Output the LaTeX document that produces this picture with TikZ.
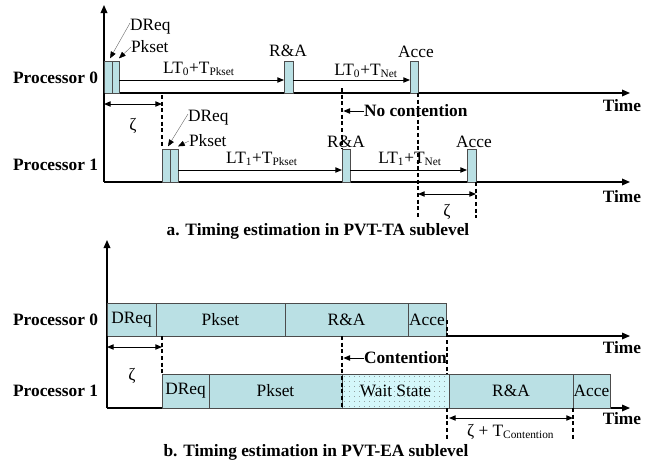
\documentclass[tikz,border=0pt]{standalone}
\usepackage{fontspec}
\setmainfont{Liberation Serif}
\usetikzlibrary{fit,arrows.meta,calc}
\definecolor{boxc}{RGB}{186,224,228}
\definecolor{waitc}{RGB}{212,247,250}
\newcommand{\subx}[1]{\textsubscript{\fontsize{8.5}{9}\selectfont #1}}
\begin{document}
\begin{tikzpicture}[x=0.75pt,y=-0.75pt,
  every node/.style={inner sep=0pt, outer sep=0pt},
  txt/.style={font=\fontsize{13}{15}\selectfont},
  btxt/.style={font=\fontsize{13}{15}\selectfont\bfseries},
  captxt/.style={font=\fontsize{13}{15}\selectfont\bfseries},
  bx/.style={draw=black!70, line width=0.7pt, fill=boxc, inner sep=0pt},
  waitbx/.style={bx, fill=waitc, path picture={
      \foreach \i in {0,...,21} \foreach \j in {0,...,6}
        \fill[black!55] ($(path picture bounding box.north west)+(2.5+\i*5,2.5+\j*5)$) circle[radius=0.35pt];}},
  axl/.style={line width=0.9pt, -{Triangle[length=6pt,width=5pt]}},
  arr/.style={line width=0.7pt, -{Triangle[length=5pt,width=4pt]}},
  dbl/.style={line width=0.7pt, {Triangle[length=5pt,width=4pt]}-{Triangle[length=5pt,width=4pt]}},
  lead/.style={line width=0.3pt, draw=black!60, -{Triangle[length=5pt,width=4pt,color=black]}},
  dsh/.style={line width=1.4pt, dash pattern=on 3pt off 2pt},
]
\useasboundingbox (0,0) rectangle (657,465);

% ---------------- part a ----------------
\coordinate (aO) at (104,182);
\coordinate (aT) at (104,5);
\coordinate (a0S) at (104,93);
\coordinate (a0E) at (630,93);
\coordinate (a1E) at (630,182);
\draw[axl] (aO) -- (aT);
\draw[axl] (a0S) -- (a0E);
\draw[axl] (aO) -- (a1E);

\node[bx, fit={(104,61)(112,93)}] (p0d) {};
\node[bx, fit={(112,61)(119,93)}] (p0k) {};
\node[bx, fit={(284,61)(293,93)}] (p0r) {};
\node[bx, fit={(410,61)(418,93)}] (p0a) {};

\node[bx, fit={(162,149)(170,182)}] (p1d) {};
\node[bx, fit={(170,149)(178,182)}] (p1k) {};
\node[bx, fit={(342,149)(350,182)}] (p1r) {};
\node[bx, fit={(467,149)(476,182)}] (p1a) {};

\coordinate (y0) at (0,80);
\coordinate (y1) at (0,170);
\draw[arr] (p0k.east |- y0) -- (p0r.west |- y0);
\draw[arr] (p0r.east |- y0) -- (p0a.west |- y0);
\draw[arr] (p1k.east |- y1) -- (p1r.west |- y1);
\draw[arr] (p1r.east |- y1) -- (p1a.west |- y1);

\node[txt, anchor=west] (l0d) at (130,27) {DReq};
\node[txt, anchor=west] (l0k) at (131,47) {Pkset};
\node[txt] (l0r) at (288,51) {R\&A};
\node[txt] (l0a) at (416,52) {Acce};
\node[txt] (t0p) at (199,69) {LT\subx{0}+T\subx{Pkset}};
\node[txt] (t0n) at (366,71) {LT\subx{0}+T\subx{Net}};

\node[txt, anchor=west] (l1d) at (188,118) {DReq};
\node[txt, anchor=west] (l1k) at (189,141) {Pkset};
\node[txt] (l1r) at (346,142) {R\&A};
\node[txt] (l1a) at (474,142) {Acce};
\node[txt] (t1p) at (262,159) {LT\subx{1}+T\subx{Pkset}};
\node[txt] (t1n) at (410,159) {LT\subx{1}+T\subx{Net}};

\draw[lead] ([yshift=3pt]l0d.west) -- ([yshift=2pt,xshift=-1.5pt]p0d.north east);
\draw[lead] (l0k.west) -- ([yshift=2pt]p0k.north east);
\draw[lead] ([yshift=3pt]l1d.west) -- ([yshift=2pt,xshift=-1.5pt]p1d.north east);
\draw[lead] (l1k.west) -- ([yshift=2pt]p1k.north east);

\node[btxt, anchor=east] (pa0) at (98,78) {Processor 0};
\node[btxt, anchor=east] (pa1) at (98,165) {Processor 1};
\node[btxt, anchor=east] (ta0) at (641,106) {Time};
\node[btxt, anchor=east] (ta1) at (641,197) {Time};

\coordinate (d1a) at (104,93);  \coordinate (d1b) at (104,136);
\coordinate (d2a) at (162,95);  \coordinate (d2b) at (162,148);
\draw[dsh] (d1a) -- (d1b);
\draw[dsh] (d2a) -- (d2b);
\coordinate (z1a) at (104,104); \coordinate (z1b) at (162,104);
\draw[dbl] (z1a) -- (z1b);
\node[txt] (z1) at (133,126) {ζ};

\coordinate (d3a) at (342,88);
\draw[dsh] (d3a) -- (d3a |- p1r.north);
\node[btxt, anchor=west] (nc) at (364,111) {No contention};
\draw[arr] (nc.west) -- ([xshift=1pt]nc.west -| d3a);

\coordinate (d4a) at (418,93);  \coordinate (d4b) at (418,218);
\coordinate (d5a) at (476,182); \coordinate (d5b) at (476,218);
\draw[dsh] (d4a) -- (d4b);
\draw[dsh] (d5a) -- (d5b);
\coordinate (z2a) at (418,194); \coordinate (z2b) at (476,194);
\draw[dbl] (z2a) -- (z2b);
\node[txt] (z2) at (447,212) {ζ};

\node[captxt] (capa) at (318,231) {a. Timing estimation in PVT-TA sublevel};

% ---------------- part b ----------------
\coordinate (bO) at (107,408);
\coordinate (bT) at (107,240);
\coordinate (b0S) at (107,336);
\coordinate (b0E) at (630,336);
\coordinate (b1E) at (630,408);
\draw[axl] (bO) -- (bT);
\draw[axl] (b0S) -- (b0E);
\draw[axl] (bO) -- (b1E);

\node[bx, fit={(107,303)(156,336)}] (q0d) {};
\node[bx, fit={(156,303)(285,336)}] (q0k) {};
\node[bx, fit={(285,303)(408,336)}] (q0r) {};
\node[bx, fit={(408,303)(446,336)}] (q0a) {};
\node[txt] (q0dt) at (q0d) {DReq};
\node[txt] (q0kt) at (q0k) {Pkset};
\node[txt] (q0rt) at (q0r) {R\&A};
\node[txt] (q0at) at (q0a) {Acce};

\node[bx, fit={(162,374)(209,408)}] (q1d) {};
\node[bx, fit={(209,374)(342,408)}] (q1k) {};
\node[waitbx, fit={(342,374)(449,408)}] (q1w) {};
\node[bx, fit={(449,374)(573,408)}] (q1r) {};
\node[bx, fit={(573,374)(610,408)}] (q1a) {};
\node[txt] (q1dt) at (q1d) {DReq};
\node[txt] (q1kt) at (q1k) {Pkset};
\node[txt] (q1wt) at (q1w) {Wait State};
\node[txt] (q1rt) at (q1r) {R\&A};
\node[txt] (q1at) at (q1a) {Acce};

\node[btxt, anchor=east] (pb0) at (98,320) {Processor 0};
\node[btxt, anchor=east] (pb1) at (98,391) {Processor 1};
\node[btxt, anchor=east] (tb0) at (641,348) {Time};
\node[btxt, anchor=east] (tb1) at (641,419) {Time};

\coordinate (e1a) at (107,336); \coordinate (e1b) at (107,376);
\coordinate (e2a) at (162,336);
\draw[dsh] (e1a) -- (e1b);
\draw[dsh] (e2a) -- (q1d.north west);
\coordinate (w1a) at (107,347); \coordinate (w1b) at (162,347);
\draw[dbl] (w1a) -- (w1b);
\node[txt] (z3) at (132,376) {ζ};

\coordinate (e3a) at (342,336);
\draw[dsh] (e3a) -- (q1w.south west);
\node[btxt, anchor=west] (ct) at (364,358) {Contention};
\draw[arr] (ct.west) -- ([xshift=1pt]ct.west -| e3a);
\coordinate (e4a) at (447,320);
\draw[dsh] (e4a) -- (e4a |- q1w.north);
\coordinate (e5a) at (447,408); \coordinate (e5b) at (447,440);
\coordinate (e6a) at (573,408); \coordinate (e6b) at (573,440);
\draw[dsh] (e5a) -- (e5b);
\draw[dsh] (e6a) -- (e6b);
\coordinate (y418) at (0,418);
\draw[dbl] (q1r.south west |- y418) -- (q1r.south east |- y418);
\node[txt, anchor=west] (z4) at (467,432) {ζ + T\subx{Contention}};

\node[captxt] (capb) at (316,452) {b. Timing estimation in PVT-EA sublevel};
\end{tikzpicture}
\end{document}
